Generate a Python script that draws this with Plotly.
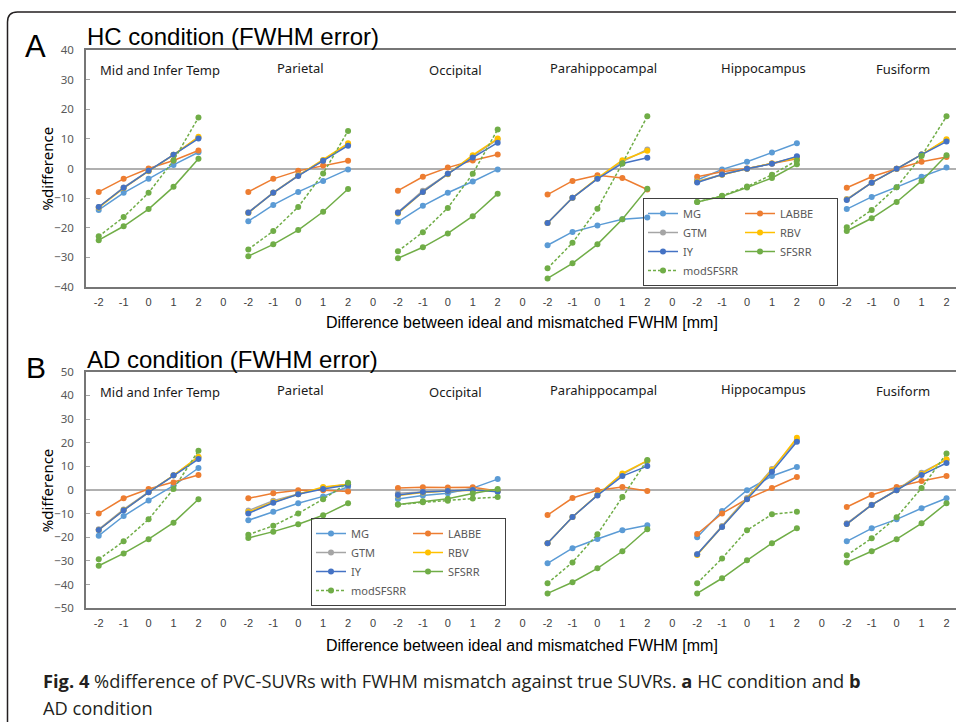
import plotly.graph_objects as go

# ---------------- data ----------------
REGIONS = ["Mid and Infer Temp", "Parietal", "Occipital",
           "Parahippocampal", "Hippocampus", "Fusiform"]
FWHM_DIFF = ["-2", "-1", "0", "1", "2"]
GAP_LABEL = "0"
METHODS = ["MG", "LABBE", "GTM", "RBV", "IY", "SFSRR", "modSFSRR"]

# HC condition (panel A), 6 regions x 5 FWHM differences
HC_MG = [-14.0, -8.2, -3.5, 1.2, 5.5,
         -17.8, -12.3, -7.9, -4.2, -0.3,
         -18.0, -12.6, -8.2, -4.4, -0.3,
         -25.9, -21.4, -19.2, -17.1, -16.5,
         -3.9, -0.3, 2.3, 5.4, 8.5,
         -13.7, -9.6, -6.3, -2.8, 0.3]
HC_LABBE = [-7.9, -3.5, 0.0, 2.7, 6.1,
            -7.9, -3.5, -0.8, 1.0, 2.6,
            -7.5, -2.8, 0.3, 2.7, 4.7,
            -8.8, -4.2, -2.3, -3.2, -7.1,
            -2.8, -1.1, 0.0, 1.7, 3.3,
            -6.5, -2.8, -0.1, 2.3, 3.9]
HC_GTM = [-13.0, -6.4, -0.8, 4.6, 10.5,
          -14.8, -8.1, -2.3, 2.7, 8.2,
          -14.8, -7.5, -1.8, 4.2, 9.8,
          -18.4, -9.9, -3.4, 2.3, 6.4,
          -4.4, -2.0, -0.1, 1.7, 3.9,
          -10.3, -4.8, -0.1, 4.7, 9.6]
HC_RBV = [-13.2, -6.6, -0.9, 4.6, 10.7,
          -15.0, -8.2, -2.4, 2.9, 8.5,
          -15.2, -7.9, -1.9, 4.5, 10.1,
          -18.4, -9.9, -3.2, 2.8, 6.0,
          -4.5, -2.1, -0.1, 1.7, 3.6,
          -10.5, -4.8, -0.1, 4.7, 9.9]
HC_IY = [-13.0, -6.5, -0.8, 4.6, 10.1,
         -14.9, -8.2, -2.5, 2.6, 7.7,
         -14.9, -7.9, -1.8, 3.7, 8.7,
         -18.4, -9.9, -3.5, 1.7, 3.6,
         -4.7, -2.0, -0.1, 1.6, 4.1,
         -10.6, -4.8, -0.1, 4.7, 9.1]
HC_SFSRR = [-24.2, -19.5, -13.7, -6.2, 3.3,
            -29.6, -25.6, -20.8, -14.6, -6.9,
            -30.3, -26.6, -21.9, -16.1, -8.5,
            -37.1, -32.0, -25.6, -17.1, -6.8,
            -11.3, -9.4, -6.4, -3.2, 1.4,
            -21.1, -16.8, -11.3, -4.2, 4.5]
HC_MODSFSRR = [-22.9, -16.4, -8.2, 2.7, 17.2,
               -27.3, -21.1, -13.0, -1.7, 12.7,
               -27.9, -21.5, -13.3, -1.8, 13.2,
               -33.7, -25.1, -13.6, 1.7, 17.6,
               -11.3, -9.2, -6.1, -2.1, 2.7,
               -19.8, -14.0, -6.3, 4.2, 17.6]

# AD condition (panel B)
AD_MG = [-19.3, -11.0, -4.4, 1.8, 9.3,
         -12.8, -9.2, -5.6, -2.7, 1.4,
         -3.8, -2.3, -1.4, 0.8, 4.6,
         -31.0, -24.6, -20.7, -17.0, -14.9,
         -20.0, -8.9, -0.1, 5.9, 9.7,
         -21.7, -16.2, -12.4, -7.7, -3.5]
AD_LABBE = [-9.9, -3.5, 0.4, 3.2, 6.3,
            -3.5, -1.4, -0.1, -0.1, -0.6,
            0.8, 1.2, 1.1, 1.2, -0.4,
            -10.6, -3.4, -0.1, 1.3, -0.4,
            -18.6, -9.9, -3.8, 0.8, 5.5,
            -7.2, -2.1, 1.3, 3.8, 5.9]
AD_GTM = [-16.6, -8.2, -0.8, 6.1, 13.8,
          -8.7, -4.5, -1.7, 1.0, 2.4,
          -1.4, -0.7, -0.3, 0.0, -0.3,
          -22.5, -11.4, -2.1, 6.6, 12.3,
          -27.2, -15.2, -3.4, 8.9, 21.1,
          -14.1, -6.2, 0.0, 7.3, 12.8]
AD_RBV = [-16.9, -8.5, -1.0, 6.2, 14.1,
          -9.3, -5.1, -1.8, 1.3, 2.4,
          -2.3, -1.1, -0.4, -0.1, -0.3,
          -22.5, -11.4, -2.1, 7.0, 12.4,
          -27.5, -15.5, -3.8, 8.5, 22.1,
          -14.4, -6.3, -0.1, 6.8, 13.0]
AD_IY = [-16.9, -8.6, -1.0, 6.2, 13.1,
         -9.9, -5.4, -1.8, 0.4, 2.1,
         -2.1, -0.8, -0.4, 0.0, -0.7,
         -22.5, -11.4, -2.3, 5.9, 10.1,
         -27.2, -15.6, -3.9, 7.7, 20.4,
         -14.4, -6.3, -0.1, 6.3, 11.4]
AD_SFSRR = [-32.0, -26.8, -20.8, -13.8, -3.9,
            -20.3, -17.6, -14.5, -10.7, -5.6,
            -6.1, -4.8, -3.7, -1.5, 0.4,
            -43.7, -39.0, -33.1, -25.9, -16.6,
            -43.7, -37.3, -29.7, -22.5, -16.2,
            -30.6, -25.9, -20.8, -14.1, -5.6]
AD_MODSFSRR = [-29.3, -21.7, -12.4, 0.4, 16.6,
               -18.9, -15.1, -9.9, -3.9, 3.1,
               -6.1, -5.2, -4.5, -3.6, -3.0,
               -39.4, -30.6, -18.7, -3.0, 12.7,
               -39.4, -28.9, -17.0, -10.3, -9.2,
               -27.6, -20.4, -11.5, 0.8, 15.4]

HC_DATA = [HC_MG, HC_LABBE, HC_GTM, HC_RBV, HC_IY, HC_SFSRR, HC_MODSFSRR]
AD_DATA = [AD_MG, AD_LABBE, AD_GTM, AD_RBV, AD_IY, AD_SFSRR, AD_MODSFSRR]

# ---------------- styles ----------------
COLORS = ["#5B9BD5", "#ED7D31", "#A5A5A5", "#FFC000", "#4472C4", "#70AD47", "#70AD47"]
DASHES = ["solid"] * 6 + ["3px,2px"]
LEG_GROUP = ["c1", "c2", "c1", "c2", "c1", "c2", "c1"]

W, H = 956, 722
def px(x):
    return x / W
def py(y):
    return 1 - y / H

n_reg = len(REGIONS)
n_pts = len(FWHM_DIFF)
step = n_pts + 1
positions = list(range(n_reg * step - 1))
ticktext = [(FWHM_DIFF + [GAP_LABEL])[i % step] for i in positions]

def expand(vals):
    out = []
    for r in range(n_reg):
        out += vals[r * n_pts:(r + 1) * n_pts]
        if r < n_reg - 1:
            out.append(None)
    return out

fig = go.Figure()
for panel, (data, xa, ya, leg) in enumerate([(HC_DATA, "x", "y", "legend"),
                                             (AD_DATA, "x2", "y2", "legend2")]):
    for m, name in enumerate(METHODS):
        fig.add_trace(go.Scatter(
            x=positions, y=expand(data[m]), name=name, mode="lines+markers",
            xaxis=xa, yaxis=ya, legend=leg,
            legendgroup=LEG_GROUP[m] + str(panel),
            line=dict(color=COLORS[m], width=1.5, dash=DASHES[m]),
            marker=dict(color=COLORS[m], size=6),
            connectgaps=False, hoverinfo="x+y+name"))

# ---------------- geometry ----------------
PLOT_L = 86
A_TOP, A_BOT = 50, 287
B_TOP, B_BOT = 371.7, 608.3
XR = [-0.51, -0.51 + (W - PLOT_L) / 24.935]

AX_LINE = "#767676"
tickfont_x = dict(family="Liberation Sans, Arial", size=11, color="#404040")
tickfont_y = dict(family="Noto Sans", size=11.5, color="#595959")

def xaxis_cfg(anchor):
    return dict(domain=[px(PLOT_L), 1], range=XR, anchor=anchor,
                tickmode="array", tickvals=positions, ticktext=ticktext,
                ticks="", showgrid=False, zeroline=False,
                showline=True, mirror=True, linecolor=AX_LINE, linewidth=1.5,
                tickfont=tickfont_x, ticklabelstandoff=4, fixedrange=True)

def yaxis_cfg(anchor, top, bot, rng):
    return dict(domain=[py(bot), py(top)], range=rng, anchor=anchor,
                dtick=10, tick0=0, ticks="inside", ticklen=4, tickcolor="#a6a6a6",
                showgrid=False, zeroline=True, zerolinecolor="#b0b0b0", zerolinewidth=1.5,
                showline=True, linecolor=AX_LINE, linewidth=1.5,
                tickfont=tickfont_y, ticklabelstandoff=8, fixedrange=True)

def zero_frac(top, bot, rng):
    return py(bot) + (0 - rng[0]) / (rng[1] - rng[0]) * (py(top) - py(bot))

boundaries = [k - 0.5 for k in range(1, len(positions))]
def zero_tick_axis(over, pos):
    return dict(overlaying=over, anchor="free", position=pos, range=XR,
                tickmode="array", tickvals=boundaries, showticklabels=False,
                ticks="outside", side="top", ticklen=4, tickcolor="#b0b0b0",
                showline=False, showgrid=False, zeroline=False, fixedrange=True)

fig.update_layout(
    width=W, height=H, margin=dict(l=0, r=0, t=0, b=0, autoexpand=False),
    paper_bgcolor="white", plot_bgcolor="white",
    xaxis=xaxis_cfg("y"), yaxis=yaxis_cfg("x", A_TOP, A_BOT, [-40, 40]),
    xaxis2=xaxis_cfg("y2"), yaxis2=yaxis_cfg("x2", B_TOP, B_BOT, [-50, 50]),
    xaxis3=zero_tick_axis("x", zero_frac(A_TOP, A_BOT, [-40, 40])),
    xaxis4=zero_tick_axis("x2", zero_frac(B_TOP, B_BOT, [-50, 50])),
    showlegend=True,
)

legend_common = dict(orientation="h", xanchor="left", yanchor="top",
                     bgcolor="rgba(255,255,255,0)", bordercolor="#404040", borderwidth=1,
                     font=dict(family="Noto Sans", size=11, color="#595959"),
                     entrywidth=52, entrywidthmode="pixels", tracegroupgap=0,
                     traceorder="grouped")
fig.update_layout(
    legend=dict(x=px(643), y=py(198), **legend_common),
    legend2=dict(x=px(311), y=py(518), **legend_common),
)

# ---------------- annotations ----------------
ann = []
def text(x, y, s, size, family="Liberation Sans, Arial", color="#000000",
         xanchor="left", angle=0, yanchor="middle"):
    ann.append(dict(x=px(x), y=py(y), xref="paper", yref="paper", text=s,
                    showarrow=False, xanchor=xanchor, yanchor=yanchor,
                    textangle=angle, font=dict(family=family, size=size, color=color)))

text(23, 46, "A", 31)
text(85, 36.7, "HC condition (FWHM error)", 24)
text(24, 367, "B", 30)
text(85, 359, "AD condition (FWHM error)", 24)

text(46.5, 169, "%difference", 15, family="Noto Sans", xanchor="center", angle=-90)
text(46.5, 490.8, "%difference", 15, family="Noto Sans", xanchor="center", angle=-90)

REGION_X = [160, 300, 455, 603, 763, 903]
REGION_Y_A = [69.5, 67.5, 70, 68, 67.5, 69]
REGION_Y_B = [391.7, 389.7, 392, 389.7, 388.7, 391]
for i, name in enumerate(REGIONS):
    text(REGION_X[i], REGION_Y_A[i], name, 13, family="Noto Sans",
         color="#1a1a1a", xanchor="center")
    text(REGION_X[i], REGION_Y_B[i], name, 13, family="Noto Sans",
         color="#1a1a1a", xanchor="center")

XTITLE = "Difference between ideal and mismatched FWHM [mm]"
text(521.5, 322.5, XTITLE, 16, xanchor="center")
text(521.5, 645, XTITLE, 16, xanchor="center")

CAP_FONT = "Open Sans"
text(41, 680, "<b>Fig. 4</b> %difference of PVC-SUVRs with FWHM mismatch against true SUVRs. "
     "<b>a</b> HC condition and <b>b</b>", 18.3, family=CAP_FONT, color="#231F20")
text(41, 707.5, "AD condition", 18.3, family=CAP_FONT, color="#231F20")

fig.update_layout(annotations=ann)

# ---------------- outer rounded frame ----------------
r = 10
fx, fy = 7.5, 12
path = (f"M {px(fx)},{py(H + 20)} L {px(fx)},{py(fy + r)} "
        f"Q {px(fx)},{py(fy)} {px(fx + r)},{py(fy)} L {px(W + 20)},{py(fy)}")
fig.update_layout(shapes=[dict(type="path", path=path, xref="paper", yref="paper",
                               line=dict(color="#231F20", width=1.5))])

fig.write_html("out.html",
               config={"displayModeBar": False},
               post_script="document.body.style.margin='0px';"
                           "document.body.style.overflow='hidden';")
